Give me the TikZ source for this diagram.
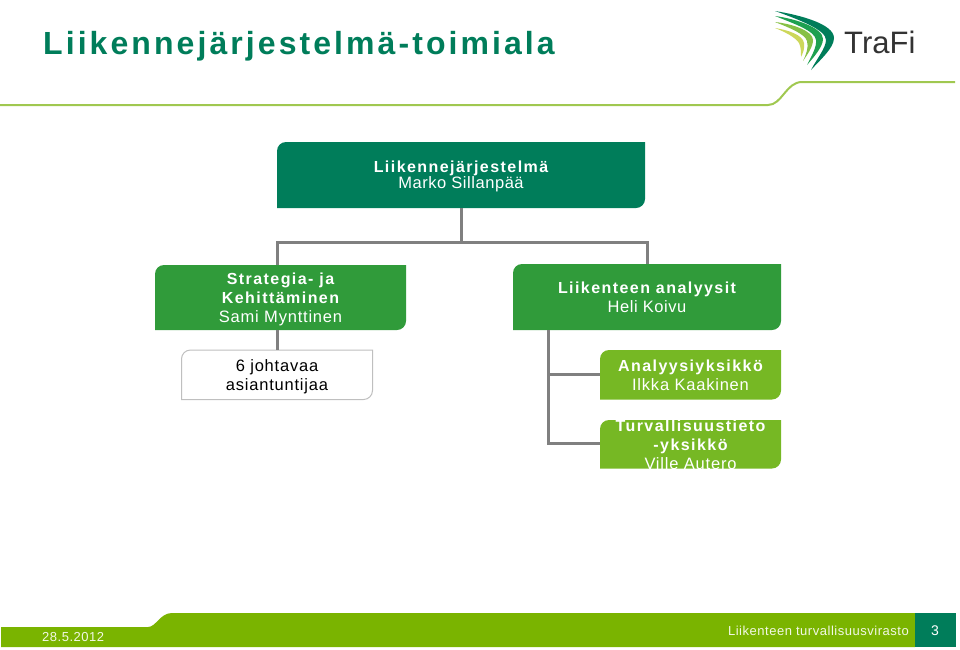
\documentclass[tikz,border=0pt]{standalone}
\usepackage{fontspec}
\setmainfont{Liberation Sans}
\newfontfamily\spc[LetterSpace=9]{Liberation Sans}
\newfontfamily\spl[LetterSpace=4.8]{Liberation Sans}
\newfontfamily\spm[LetterSpace=3.3]{Liberation Sans}
\newfontfamily\spf[LetterSpace=4]{Liberation Sans}
\newfontfamily\ttl[LetterSpace=9.6]{Liberation Sans}
\definecolor{teal}{RGB}{0,125,90}
\definecolor{midg}{RGB}{48,155,58}
\definecolor{ligr}{RGB}{118,184,36}
\definecolor{band}{RGB}{122,180,0}
\definecolor{conn}{RGB}{128,128,128}
\definecolor{rule}{RGB}{160,200,80}
\definecolor{logog}{RGB}{30,160,80}
\definecolor{logol}{RGB}{135,192,70}
\definecolor{logoy}{RGB}{205,215,90}
\tikzset{
  x=1pt,y=-1pt,
  orgbox/.style={rectangle,inner sep=0pt,minimum width=#1},
  orgtext/.style={inner sep=0pt,align=center,text=white,font=\fontsize{16}{19}\selectfont},
  link/.style={draw=conn,line width=3pt,line join=miter},
  rule line/.style={draw=rule,line width=2pt},
  bandfill/.style={fill=band,draw=none}
}
% path of a box with two rounded corners: top left and bottom right
\newcommand{\boxpath}[4]{(#1,#2+9) .. controls (#1,#2+4) and (#1+4,#2) .. (#1+9,#2) -- (#3,#2) -- (#3,#4-9) .. controls (#3,#4-4) and (#3-4,#4) .. (#3-9,#4) -- (#1,#4) -- cycle}
% [text offset], name, colour, left, top, right, bottom, text
\newcommand{\orgnode}[8][1]{%
  \fill[#3] \boxpath{#4}{#5}{#6}{#7};
  \node[orgbox=#6pt-#4pt,minimum height=#7pt-#5pt] (#2) at ({(#4+#6)/2},{(#5+#7)/2}) {};
  \node[orgtext] (#2-text) at ({(#4+#6)/2},{(#5+#7)/2+#1}) {#8};
}
\newcommand{\bfs}[1]{{\spc\bfseries #1}}
\newcommand{\nrm}[1]{{\fontsize{16.5}{19}\selectfont\spl #1}}
\begin{document}
\begin{tikzpicture}
\useasboundingbox (0,0) rectangle (960,649);
% rule under the header
\path[rule line] (0,105) -- (768,105) .. controls (782,105) and (786,82) .. (802,82) -- (955,82);
% title
\node[anchor=base west,inner sep=0pt,text=teal,font=\fontsize{32}{36}\selectfont\ttl\bfseries] (title) at (43,54) {Liikennejärjestelmä-toimiala};
% logo
\fill[teal] (775,11) .. controls (800,15) and (834,24) .. (834,38) .. controls (834,48) and (820,60) .. (811,70) .. controls (816,60) and (826,48) .. (826,40) .. controls (826,30) and (800,20) .. (775,11) -- cycle;
\fill[logog] (775,16) .. controls (797,19) and (823,28) .. (823,39) .. controls (823,47) and (813,58) .. (807,65) .. controls (811,57) and (817,47) .. (816,40) .. controls (815,31) and (795,24) .. (775,16) -- cycle;
\fill[logol] (775,22) .. controls (793,24) and (813,31) .. (813,40) .. controls (813,47) and (807,55) .. (803,61) .. controls (806,55) and (809,47) .. (807,41) .. controls (805,34) and (790,28) .. (775,22) -- cycle;
\fill[logoy] (775,28) .. controls (788,30) and (803,35) .. (804,43) .. controls (805,48) and (803,53) .. (801,57) .. controls (801,52) and (801,47) .. (799,43) .. controls (795,37) and (785,32) .. (775,28) -- cycle;
\node[anchor=base west,inner sep=0pt,text=black!80,font=\fontsize{31}{34}\selectfont] (logotext) at (844,53) {TraFi};
% junctions of the connectors
\coordinate (jl) at (277,242);
\coordinate (jc) at (461,242);
\coordinate (jr) at (647,242);
\coordinate (tl) at (548,374.5);
\coordinate (tb) at (548,443.5);
% boxes
\orgnode{top}{teal}{277}{142}{645}{208}{\bfs{Liikennejärjestelmä}\\[-3pt]{\fontsize{16.5}{19}\selectfont\spm Marko Sillanpää}}
\orgnode[2]{strat}{midg}{155}{265}{406}{330}{\bfs{Strategia- ja}\\\bfs{Kehittäminen}\\\nrm{Sami Mynttinen}}
\orgnode[0]{liik}{midg}{513}{264}{781}{330}{\bfs{Liikenteen analyysit}\\{\fontsize{16.5}{19}\selectfont\spm Heli Koivu}}
\orgnode{ana}{ligr}{600}{350}{781}{399.5}{\bfs{Analyysiyksikkö}\\\nrm{Ilkka Kaakinen}}
\orgnode{turv}{ligr}{600}{420}{781}{468.5}{\bfs{Turvallisuustieto}\\\bfs{-yksikkö}\\\nrm{Ville Autero}}
\draw[draw=black!25,line width=1pt,fill=white] \boxpath{181.5}{350}{372.5}{399.5};
\node[orgbox=191pt,minimum height=49.5pt] (exp) at (277,374.75) {};
\node[orgtext,text=black] (exp-text) at (277,376.5) {\nrm{6 johtavaa}\\\nrm{asiantuntijaa}};
% connectors
\draw[link] (top.south) -- (jc);
\draw[link] (strat.north -| jl) -- (jl) -- (jr) -- (liik.north -| jr);
\draw[link] (strat.south -| jl) -- (exp.north);
\draw[link] (liik.south -| tl) -- (tb) -- (turv.west |- tb);
\draw[link] (tl) -- (ana.west |- tl);
% footer
\fill[bandfill] (1,627) -- (148,627) .. controls (156,627) and (160,613) .. (172,613) -- (915,613) -- (915,647) -- (1,647) -- cycle;
\fill[teal] (915,613) rectangle (956,647);
\node[anchor=base west,inner sep=0pt,text=white!90!band,font=\fontsize{13}{14}\selectfont\spf] (date) at (42,641.5) {28.5.2012};
\node[anchor=base east,inner sep=0pt,text=white!90!band,font=\fontsize{13}{14}\selectfont\spf] (org) at (909,635) {Liikenteen turvallisuusvirasto};
\node[anchor=base,inner sep=0pt,text=white,font=\fontsize{14}{14}\selectfont] (page) at (935,635.5) {3};
\end{tikzpicture}
\end{document}
